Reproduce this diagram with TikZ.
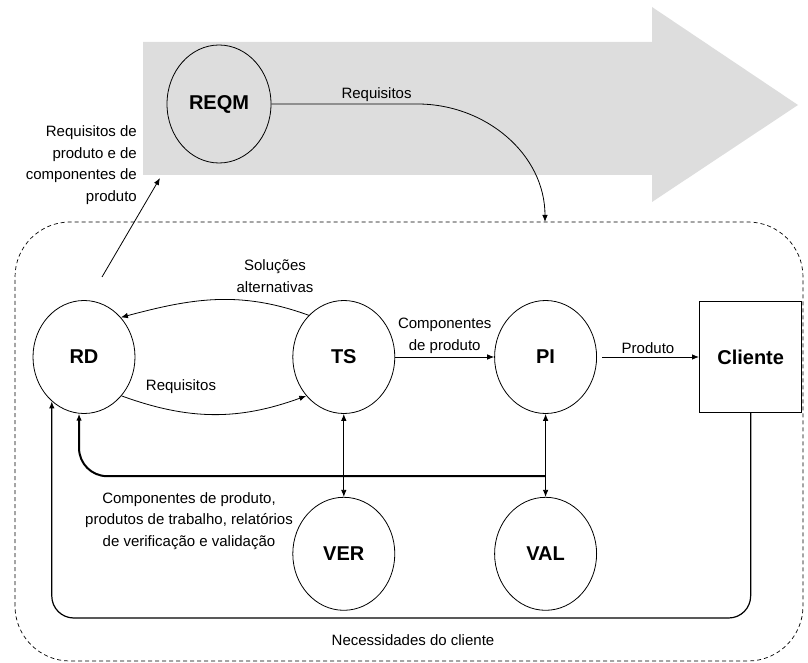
\documentclass[tikz,border=0pt]{standalone}
\usepackage{fontspec}
\setmainfont{Liberation Sans}
\usetikzlibrary{arrows.meta, calc, positioning, shapes.geometric}
\definecolor{bandgray}{RGB}{221,221,221}
\tikzset{
  cmarrow/.style={-{Latex[length=7pt, width=5.5pt]}, line width=0.8pt},
  cmtwoway/.style={{Latex[length=7pt, width=5.5pt]}-{Latex[length=7pt, width=5.5pt]}, line width=0.8pt},
  cmproc/.style={ellipse, draw, line width=0.8pt, minimum width=102pt, minimum height=113pt, inner sep=0pt, font=\fontsize{20}{24}\selectfont\bfseries},
  cmactor/.style={rectangle, draw, line width=1.3pt, minimum width=102pt, minimum height=111pt, font=\fontsize{20}{24}\selectfont\bfseries},
  cmlabel/.style={font=\fontsize{15}{21.5}\selectfont, inner sep=1pt, align=center},
  cmframe/.style={draw, dash pattern=on 4pt off 3pt, rounded corners=55pt, line width=0.7pt},
}

\begin{document}
\begin{tikzpicture}[x=1pt, y=1pt]
  \useasboundingbox (0,0) rectangle (808,662);

  % Requirements management band and the engineering frame.
  \fill[bandgray] (143,487) -- (652,487) -- (652,460) -- (798,557) -- (652,655) -- (652,620) -- (143,620) -- cycle;
  \draw[cmframe] (15,1) rectangle (803,440);

  % Processes.
  \node[cmproc, minimum width=104pt, minimum height=118pt] (REQM) at (219,558) {REQM};
  \node[cmproc] (RD) at (84,305) {RD};
  \node[cmproc, right=157pt of RD] (TS) {TS};
  \node[cmproc, right=99pt of TS] (PI) {PI};
  \node[cmactor, right=102pt of PI] (cliente) {Cliente};
  \node[cmproc, below=83pt of TS] (VER) {VER};
  \node[cmproc, below=83pt of PI] (VAL) {VAL};

  % Free ends and bends.
  \coordinate (reqin) at (545,440);
  \coordinate (rdup) at (102,385);
  \coordinate (bandin) at (160,484);
  \coordinate (fb) at ($(PI.south)!0.75!(VAL.north)$);
  \coordinate (needs) at (400,44);

  % Labels.
  \node[cmlabel, align=right, anchor=east] (prodreq) at (138,497) {Requisitos de\\produto e de\\componentes de\\produto};
  \node[cmlabel] (altsol) at (275,386) {Soluções\\alternativas};
  \node[cmlabel] (rdreq) at (181,275) {Requisitos};
  \node[cmlabel] (vvlbl) at (189,141) {Componentes de produto,\\produtos de trabalho, relatórios\\de verificação e validação};
  \node[cmlabel] (needlbl) at (413,22) {Necessidades do cliente};

  % Edges.
  \draw[cmarrow] (REQM.east) -- ++(146,0) node[cmlabel, pos=0.72, above=1pt] {Requisitos} to[out=0, in=90] (reqin);
  \draw[cmarrow] (rdup) -- (bandin);
  \draw[cmarrow] (TS.130) to[out=160, in=15] (RD.47);
  \draw[cmarrow] (RD.-46) to[out=-20, in=200] (TS.226);
  \draw[cmarrow] (TS) -- (PI) node[cmlabel, midway, above=2pt] {Componentes\\de produto};
  \draw[cmarrow, shorten <=5pt] (PI) -- (cliente) node[cmlabel, midway, above=2pt] {Produto};
  \draw[cmtwoway] (TS) -- (VER);
  \draw[cmtwoway] (PI) -- (VAL);
  \draw[-{Latex[length=7pt, width=5.5pt]}, line width=2pt, rounded corners=28pt] (fb) -| (RD.265);
  \draw[cmarrow, line width=1.2pt, rounded corners=22pt] (cliente.south) |- (needs) -| (RD.234);
\end{tikzpicture}
\end{document}
